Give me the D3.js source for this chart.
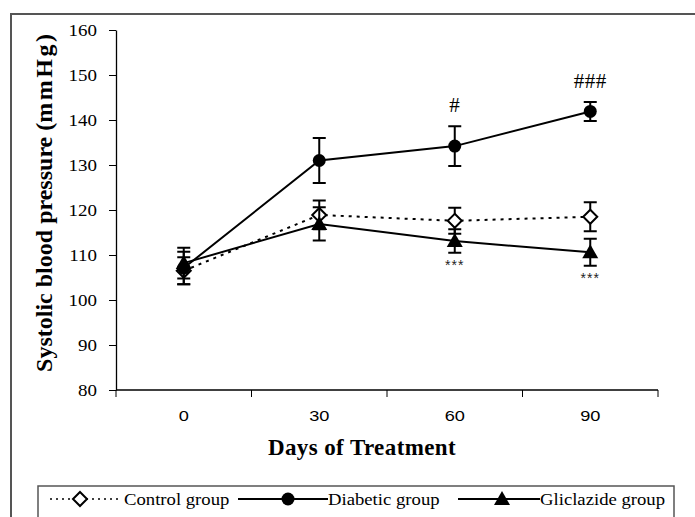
<!DOCTYPE html>
<html><head><meta charset="utf-8">
<script src="https://cdn.jsdelivr.net/npm/d3@7"></script>
<style>body{margin:0;background:#fff}svg{display:block}</style>
</head><body>
<svg id="c" width="695" height="517"></svg>
<script>
const days = ["0","30","60","90"];
const yTicks = [80,90,100,110,120,130,140,150,160];
const controlMean = [106.5,118.9,117.6,118.5];
const controlSE = [3.0,3.2,2.9,3.2];
const diabeticMean = [107.1,131.0,134.2,141.9];
const diabeticSE = [3.6,5.0,4.4,2.1];
const glicMean = [108.2,116.9,113.1,110.6];
const glicSE = [3.4,3.7,2.6,3.0];
const hashLabels = ["","","#","###"];
const starLabels = ["","","***","***"];
const legendLabels = ["Control group","Diabetic group","Gliclazide group"];

const svg = d3.select("#c");
const x = d3.scaleBand().domain(days).range([116,658]);
const y = d3.scaleLinear().domain([80,160]).range([390,30]);
const cx = d => x(d)+x.bandwidth()/2;

// outer frame
svg.append("path").attr("d","M11,517V14H695").attr("fill","none").attr("stroke","#555").attr("stroke-width",2);

// axes
const ya = svg.append("g").attr("transform","translate(116,0)")
  .call(d3.axisLeft(y).tickValues(yTicks).tickSize(7).tickSizeOuter(0).tickPadding(9.5));
ya.selectAll("text").attr("font-family","Liberation Serif").attr("font-size",16.5).attr("fill","#000")
  .attr("transform","scale(1.15,1)");
const xa = svg.append("g").attr("transform","translate(0,390)")
  .call(d3.axisBottom(x).tickSize(0).tickPadding(21));
xa.selectAll("text").attr("font-family","Liberation Sans").attr("font-size",14).attr("fill","#000")
  .attr("transform","scale(1.3,1)");
// band boundary ticks
xa.selectAll(".bt").data(days.concat(["end"])).enter().append("line")
  .attr("x1",(d,i)=>116+i*x.bandwidth()).attr("x2",(d,i)=>116+i*x.bandwidth())
  .attr("y1",0).attr("y2",7).attr("stroke","#000");
svg.selectAll(".domain").attr("stroke","#000").attr("stroke-width",1.3);
xa.select(".domain").attr("d","M116,0H658");

svg.append("text").attr("x",362).attr("y",455).attr("text-anchor","middle")
  .attr("font-family","Liberation Serif").attr("font-weight","bold").attr("font-size",23)
  .attr("letter-spacing",0.4).text("Days of Treatment");
const yt = svg.append("text").attr("transform","translate(52,203) rotate(-90)").attr("text-anchor","middle")
  .attr("font-family","Liberation Serif").attr("font-weight","bold").attr("font-size",24);
yt.append("tspan").text("Systolic blood pressure (");
yt.append("tspan").attr("letter-spacing",2.5).text("mmHg");
yt.append("tspan").text(")");

const series = [
  {mean:controlMean, se:controlSE, dash:"3,5", sym:"diamond"},
  {mean:diabeticMean, se:diabeticSE, dash:null, sym:"circle"},
  {mean:glicMean, se:glicSE, dash:null, sym:"triangle"}
];
const line = d3.line().x((d,i)=>cx(days[i])).y(d=>y(d));
function drawSym(g, sym, px, py){
  if(sym==="circle") g.append("circle").attr("cx",px).attr("cy",py).attr("r",6.5).attr("fill","#000");
  else if(sym==="triangle") g.append("path").attr("d",`M${px},${py-8}L${px+8},${py+6}L${px-8},${py+6}Z`).attr("fill","#000");
  else g.append("path").attr("d",`M${px},${py-7}L${px+7},${py}L${px},${py+7}L${px-7},${py}Z`).attr("fill","#fff").attr("stroke","#000").attr("stroke-width",2);
}
series.forEach(s=>{
  svg.append("path").datum(s.mean).attr("d",line).attr("fill","none").attr("stroke","#000")
    .attr("stroke-width",2).attr("stroke-dasharray",s.dash);
});
series.forEach(s=>{
  const g = svg.append("g");
  s.mean.forEach((m,i)=>{
    const px = cx(days[i]);
    const t = y(m+s.se[i]), b = y(m-s.se[i]);
    g.append("path").attr("d",`M${px},${t}V${b}M${px-6.5},${t}H${px+6.5}M${px-6.5},${b}H${px+6.5}`)
      .attr("stroke","#000").attr("stroke-width",2).attr("fill","none");
    drawSym(g, s.sym, px, y(m));
  });
});
// annotations
hashLabels.forEach((h,i)=>{ if(h) svg.append("text").attr("x",cx(days[i])).attr("y",y(diabeticMean[i]+diabeticSE[i])-14)
  .attr("text-anchor","middle").attr("font-family","Liberation Serif").attr("font-size",21).attr("letter-spacing",0.5).text(h);});
starLabels.forEach((h,i)=>{ if(h) svg.append("text").attr("x",cx(days[i])).attr("y",y(glicMean[i]-glicSE[i])+17)
  .attr("text-anchor","middle").attr("font-family","Liberation Sans").attr("font-size",14).attr("letter-spacing",1).attr("fill","#222").text(h);});

// legend
svg.append("path").attr("d","M38,517V486H674V517").attr("fill","none").attr("stroke","#555").attr("stroke-width",1.5);
const ly = 499;
const leg = [
  {x1:50,x2:118,sx:80,tx:124,dash:"2,4",sym:"diamond"},
  {x1:238,x2:328,sx:288,tx:328,dash:null,sym:"circle"},
  {x1:458,x2:540,sx:502,tx:540,dash:null,sym:"triangle"}
];
leg.forEach((l,i)=>{
  svg.append("line").attr("x1",l.x1).attr("x2",l.x2).attr("y1",ly).attr("y2",ly).attr("stroke","#000")
    .attr("stroke-width",l.dash?1.5:2).attr("stroke-dasharray",l.dash);
  drawSym(svg, l.sym, l.sx, ly);
  svg.append("text").attr("transform",`translate(${l.tx},${ly+6}) scale(1.1,1)`)
    .attr("font-family","Liberation Serif").attr("font-size",17).text(legendLabels[i]);
});
</script>
</body></html>
